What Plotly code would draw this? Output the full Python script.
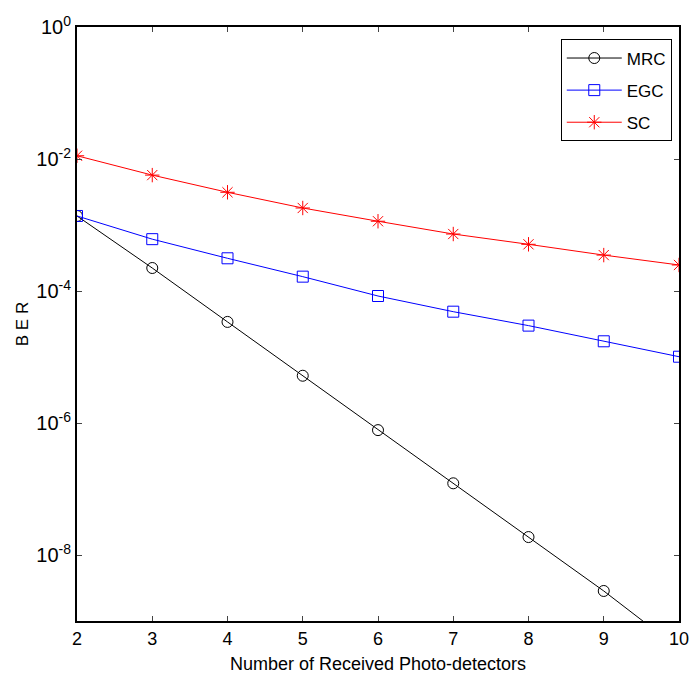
import plotly.graph_objects as go

x_vals = [2, 3, 4, 5, 6, 7, 8, 9, 10]
mrc = [1.37e-3, 2.23e-4, 3.4e-5, 5.2e-6, 7.8e-7, 1.22e-7, 1.87e-8, 2.85e-9, 3.8e-10]
egc = [1.37e-3, 6.1e-4, 3.13e-4, 1.65e-4, 8.4e-5, 4.86e-5, 2.99e-5, 1.73e-5, 1.01e-5]
sc = [1.12e-2, 5.7e-3, 3.13e-3, 1.81e-3, 1.14e-3, 7.3e-4, 5.1e-4, 3.5e-4, 2.48e-4]

y_tickvals = [1e0, 1e-2, 1e-4, 1e-6, 1e-8]
y_ticktext = ["10<sup>0</sup>", "10<sup>-2</sup>", "10<sup>-4</sup>", "10<sup>-6</sup>", "10<sup>-8</sup>"]
x_ticks = [2, 3, 4, 5, 6, 7, 8, 9, 10]

fig = go.Figure()
fig.add_trace(go.Scatter(x=x_vals, y=mrc, name="MRC", mode="lines+markers", legendgroup="a",
                         line=dict(color="black", width=1),
                         marker=dict(symbol="circle-open", size=11, color="black", line=dict(width=1))))
fig.add_trace(go.Scatter(x=x_vals, y=egc, name="EGC", mode="lines+markers", legendgroup="b",
                         line=dict(color="blue", width=1),
                         marker=dict(symbol="square-open", size=11, color="blue", line=dict(width=1))))
fig.add_trace(go.Scatter(x=x_vals, y=sc, name="SC", mode="lines+markers", legendgroup="c",
                         line=dict(color="red", width=1),
                         marker=dict(symbol="asterisk-open", size=12, color="red", line=dict(width=1, color="red"))))

font = "Liberation Sans, Arial, sans-serif"
fig.update_layout(
    width=690, height=683,
    margin=dict(l=77, r=11, t=27, b=62),
    paper_bgcolor="white", plot_bgcolor="white",
    font=dict(family=font, size=16, color="black"),
    showlegend=True,
    legend=dict(x=0.988, y=0.979, xanchor="right", yanchor="top",
                bgcolor="white", bordercolor="black", borderwidth=1,
                font=dict(size=17), itemwidth=55, tracegroupgap=7),
)
fig.update_xaxes(range=[2, 10], tickvals=x_ticks, ticks="inside", ticklen=5,
                 showline=True, linecolor="black", linewidth=2, mirror="ticks",
                 showgrid=False, zeroline=False, automargin=False,
                 title=dict(text="Number of Received Photo-detectors", font=dict(size=18), standoff=10),
                 tickfont=dict(size=18))
fig.update_yaxes(type="log", range=[-9, 0], tickvals=y_tickvals, ticktext=y_ticktext,
                 ticks="inside", ticklen=5,
                 showline=True, linecolor="black", linewidth=2, mirror="ticks",
                 showgrid=False, zeroline=False, automargin=False,
                 title=dict(text="B E R", font=dict(size=17), standoff=3),
                 tickfont=dict(size=20))

fig.write_html("out.html",
               config={"displayModeBar": False},
               post_script="document.body.style.margin='0';document.body.style.overflow='hidden';")
